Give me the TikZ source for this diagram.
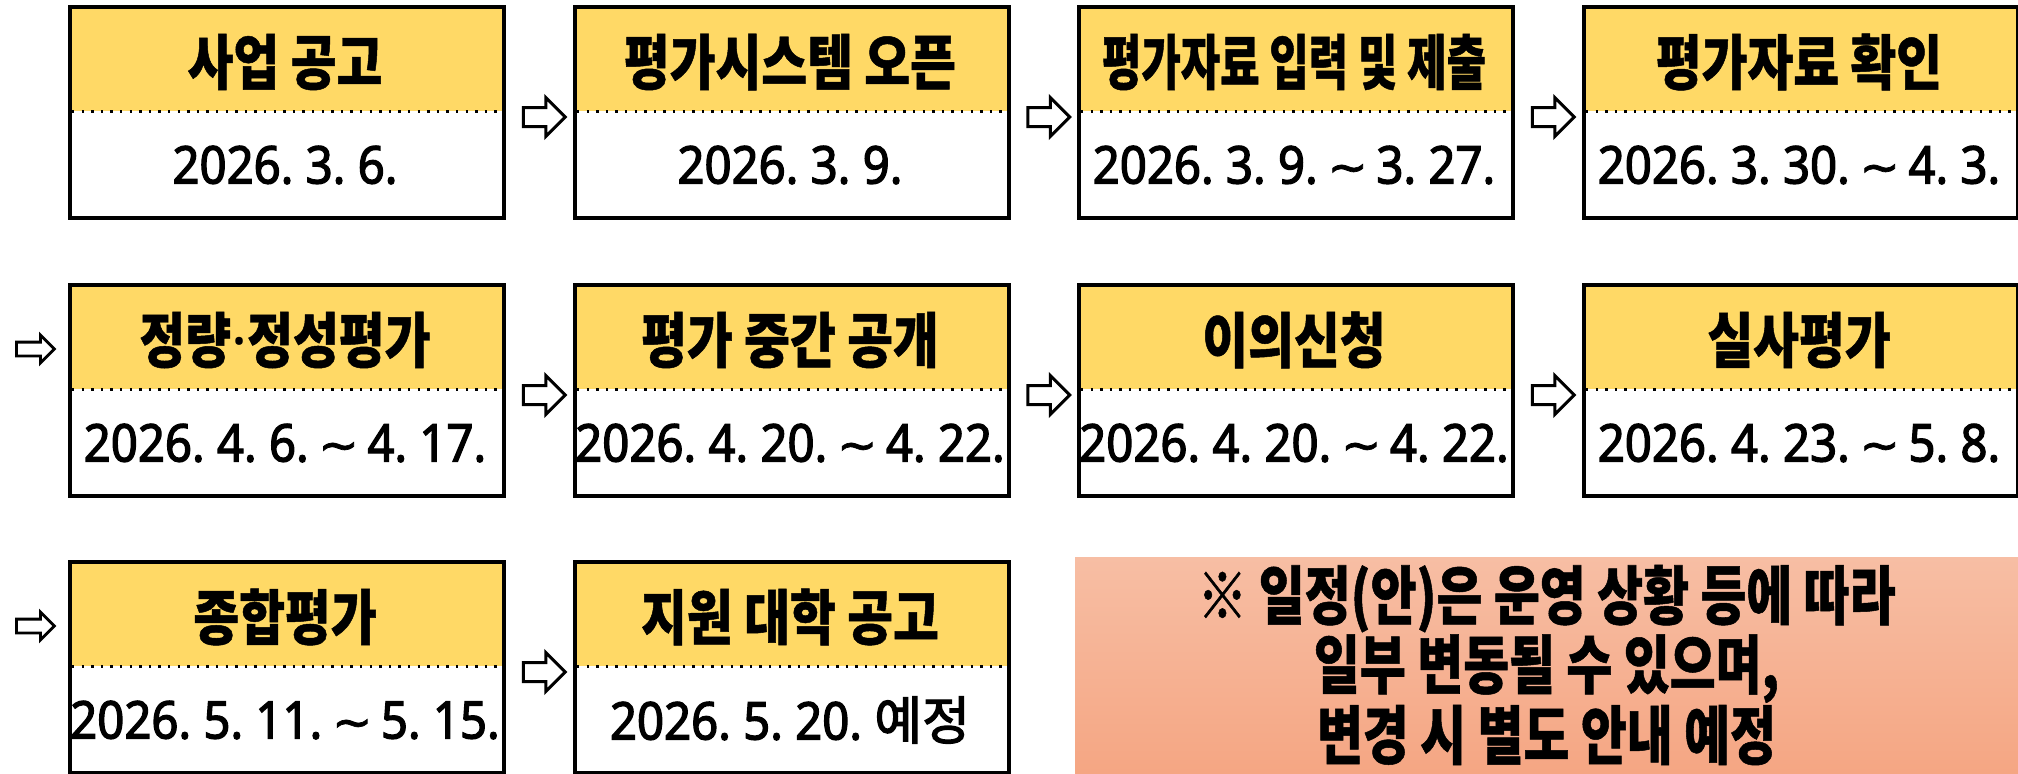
\documentclass[tikz,border=0pt]{standalone}
\usepackage{fontspec}
\usepackage{graphicx}
\usetikzlibrary{shapes.arrows,calc}
\frenchspacing
\newfontfamily\hfont[FakeStretch=0.83,BoldFeatures={FakeBold=0.8}]{Noto Sans CJK KR}
\newfontfamily\nfont[FakeStretch=0.78,BoldFeatures={FakeBold=0.8}]{Noto Sans CJK KR}
\newfontfamily\dfont[FakeBold=2.4,FakeStretch=0.91]{Noto Sans}
\newfontfamily\dkfont[FakeBold=2.4]{Noto Sans CJK KR}
\newfontfamily\tlfont[FakeBold=1.5]{DejaVu Sans}
\newfontfamily\latb{Noto Sans}
\newcommand\rng{\hspace{-0.05em}{\tlfont\fontsize{24}{28}\selectfont ∼}\hspace{-0.07em}}
\newcommand\mdot{{\latb\bfseries ·}}
\definecolor{hdr}{HTML}{FFD966}
\definecolor{notetop}{HTML}{F7BEA4}
\definecolor{notebot}{HTML}{F5A683}
\tikzset{
  framebox/.style={rectangle, draw=black, line width=2pt, minimum width=217pt, minimum height=105.5pt, inner sep=0pt},
  hdrtext/.style={inner sep=0pt, font=\hfont\bfseries\fontsize{30}{34}\selectfont},
  datetext/.style={inner sep=0pt, font=\frenchspacing\dfont\fontsize{26}{30}\selectfont},
  divider/.style={line width=1.5pt, dash pattern=on 1.2pt off 3.6pt},
  blockarrow/.style={single arrow, draw=black, fill=white, line width=1.5pt, minimum height=21pt, inner sep=4pt, single arrow head extend=5pt},
  smallarrow/.style={single arrow, draw=black, fill=white, line width=1.4pt, minimum height=19pt, inner sep=2.75pt, single arrow head extend=3.5pt},
  notebox/.style={rectangle, minimum width=471.5pt, minimum height=108pt, inner sep=0pt, top color=notetop, bottom color=notebot, align=center, font=\nfont\bfseries\fontsize{32}{32.5}\selectfont},
}
\newcommand\stepcard[5]{%
  \fill[hdr] (#2,#3) rectangle ++(434,106);
  \draw[divider] (#2+4,#3+106) -- ++(426,0);
  \node[framebox, anchor=north west] (#1) at (#2,#3) {};
  \node[hdrtext] (#1h) at (#2+217,#3+57) {#4};
  \node[datetext] (#1d) at (#2+217,#3+160) {#5};
}
\begin{document}
\begin{tikzpicture}[x=0.5pt,y=-0.5pt]
\useasboundingbox (0,0) rectangle (2018,773);
% row 1
\stepcard{b1}{68}{5}{사업 공고}{2026. 3. 6.}
\stepcard{b2}{573}{5}{평가시스템 오픈}{2026. 3. 9.}
\stepcard{b3}{1077}{5}{\scalebox{0.86}[1]{평가자료 입력 및 제출}}{2026. 3. 9. \rng{} 3. 27.}
\stepcard{b4}{1582}{5}{평가자료 확인}{2026. 3. 30. \rng{} 4. 3.}
% row 2
\stepcard{b5}{68}{283}{정량\mdot{}정성평가}{2026. 4. 6. \rng{} 4. 17.}
\stepcard{b6}{573}{283}{평가 중간 공개}{2026. 4. 20. \rng{} 4. 22.}
\stepcard{b7}{1077}{283}{이의신청}{2026. 4. 20. \rng{} 4. 22.}
\stepcard{b8}{1582}{283}{실사평가}{2026. 4. 23. \rng{} 5. 8.}
% row 3
\stepcard{b9}{68}{560}{종합평가}{2026. 5. 11. \rng{} 5. 15.}
\stepcard{b10}{573}{560}{지원 대학 공고}{2026. 5. 20. {\dkfont 예정}}
% arrows
\node[blockarrow] (a12) at ($(b1.east)!0.5!(b2.west)+(0,4.5)$) {};
\node[blockarrow] (a23) at ($(b2.east)!0.5!(b3.west)+(0,4.5)$) {};
\node[blockarrow] (a34) at ($(b3.east)!0.5!(b4.west)+(0,4.5)$) {};
\node[smallarrow] (a45) at ($(b5.west)+(-36,-41.5)$) {};
\node[blockarrow] (a56) at ($(b5.east)!0.5!(b6.west)+(0,4.5)$) {};
\node[blockarrow] (a67) at ($(b6.east)!0.5!(b7.west)+(0,4.5)$) {};
\node[blockarrow] (a78) at ($(b7.east)!0.5!(b8.west)+(0,4.5)$) {};
\node[smallarrow] (a89) at ($(b9.west)+(-36,-41.5)$) {};
\node[blockarrow] (a910) at ($(b9.east)!0.5!(b10.west)+(0,4.5)$) {};
% note
\node[notebox] (note) at (1546.5,665) {※ 일정(안)은 운영 상황 등에 따라\\일부 변동될 수 있으며,\\변경 시 별도 안내 예정};
\end{tikzpicture}
\end{document}
